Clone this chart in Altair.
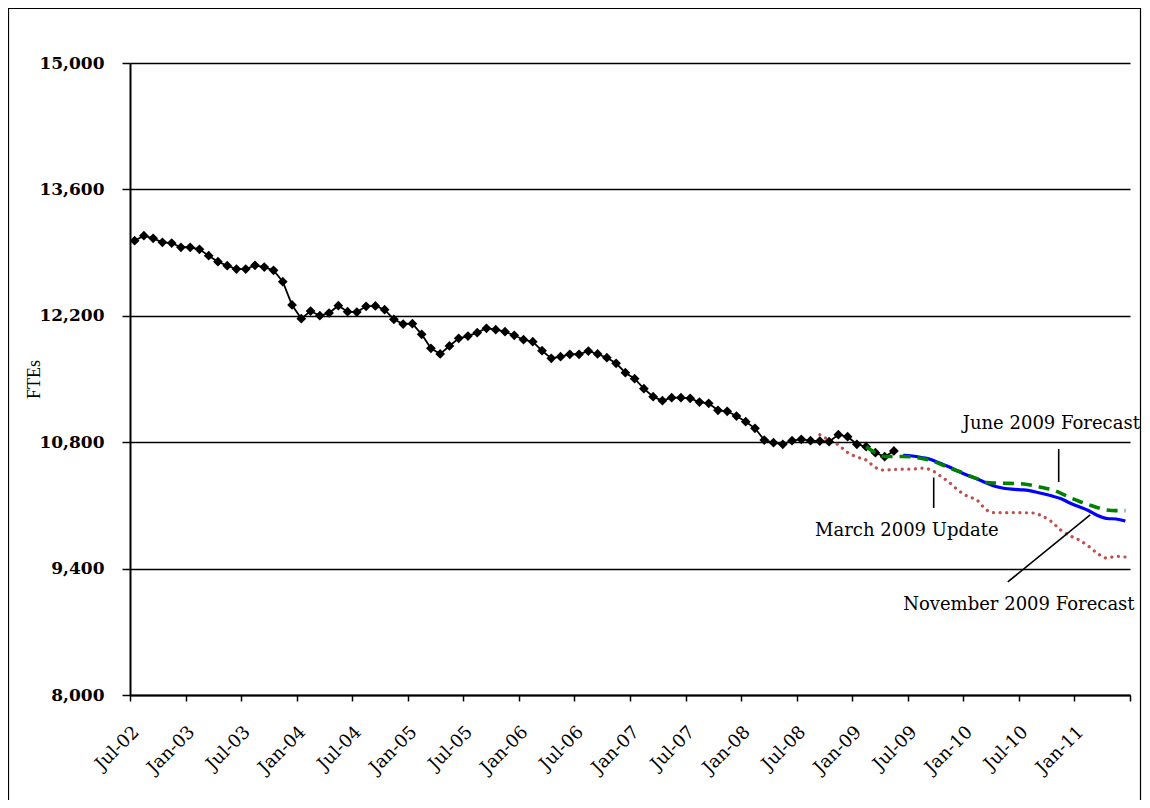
import altair as alt
import pandas as pd

# ---- data (monthly, index 0 = Jul-02) ----
actual = [13032, 13087, 13058, 13014, 13006, 12959, 12959, 12937, 12866, 12799,
          12755, 12718, 12718, 12759, 12740, 12704, 12578, 12320, 12168, 12253,
          12201, 12231, 12312, 12246, 12242, 12305, 12309, 12268, 12161, 12109,
          12113, 11995, 11840, 11777, 11866, 11951, 11976, 12013, 12062, 12046,
          12024, 11984, 11935, 11913, 11813, 11729, 11747, 11774, 11774, 11810,
          11777, 11736, 11674, 11570, 11503, 11393, 11304, 11260, 11293, 11293,
          11286, 11245, 11231, 11153, 11142, 11090, 11027, 10954, 10824, 10795,
          10777, 10817, 10832, 10817, 10813, 10806, 10883, 10861, 10777, 10750,
          10684, 10639, 10703]
actual_start = 0

march_update = [10883, 10824, 10771, 10686, 10636, 10603, 10520, 10490, 10497,
                10501, 10501, 10512, 10493, 10427, 10354, 10263, 10199, 10157,
                10049, 10019, 10019, 10021, 10019, 10016, 9983, 9922, 9828,
                9765, 9717, 9650, 9567, 9517, 9536, 9528]
march_start = 74

june_forecast = [10750, 10684, 10642, 10642, 10642, 10636, 10620, 10597, 10559,
                 10514, 10478, 10434, 10396, 10354, 10348, 10345, 10343, 10337,
                 10321, 10298, 10276, 10237, 10188, 10146, 10110, 10075, 10049,
                 10042, 10042]
june_start = 79

november_forecast = [10655, 10647, 10630, 10608, 10566, 10525, 10475, 10431,
                     10392, 10348, 10309, 10287, 10278, 10271, 10256, 10232,
                     10206, 10176, 10127, 10085, 10044, 9988, 9955, 9949, 9927]
november_start = 83

tick_labels = ["Jul-02", "Jan-03", "Jul-03", "Jan-04", "Jul-04", "Jan-05",
               "Jul-05", "Jan-06", "Jul-06", "Jan-07", "Jul-07", "Jan-08",
               "Jul-08", "Jan-09", "Jul-09", "Jan-10", "Jul-10", "Jan-11", ""]
y_ticks = [8000, 9400, 10800, 12200, 13600, 15000]

ann_text = ["June 2009 Forecast", "March 2009 Update", "November 2009 Forecast"]
ann_t = [99.5, 83.9, 96.0]
ann_v = [11002, 9817, 8997]
lead_t = [100.3, 86.8, 94.8]
lead_v = [10725, 10409, 9252]
lead_t2 = [100.3, 86.8, 103.7]
lead_v2 = [10359, 10071, 9994]


def frame(vals, start):
    return pd.DataFrame({"t": [start + k + 0.5 for k in range(len(vals))], "v": vals})


df_act = frame(actual, actual_start)
df_mar = frame(march_update, march_start)
df_jun = frame(june_forecast, june_start)
df_nov = frame(november_forecast, november_start)
df_ann = pd.DataFrame({"t": ann_t, "v": ann_v, "label": ann_text})
df_lead = pd.DataFrame({"t": lead_t, "v": lead_v, "t2": lead_t2, "v2": lead_v2})

FONT = "DejaVu Serif"
label_expr = "[" + ",".join("'%s'" % s for s in tick_labels) + "][round(datum.value / 6)]"

x_axis = alt.Axis(values=list(range(0, 109, 6)), labelExpr=label_expr, title=None)
y_axis = alt.Axis(values=y_ticks, labelExpr="format(datum.value, ',')", title="FTEs",
                  titleFontSize=18, titleFont="Liberation Serif")

x_scale = alt.Scale(domain=[0, 108], nice=False, zero=False)
y_scale = alt.Scale(domain=[8000, 15000], nice=False, zero=False)
X = alt.X("t:Q", scale=x_scale, axis=x_axis)
Y = alt.Y("v:Q", scale=y_scale, axis=y_axis)

red = alt.Chart(df_mar).mark_line(color="#C0504D", strokeWidth=3.2, strokeDash=[0.1, 6.5],
                                  strokeCap="round", interpolate="monotone").encode(x=X, y=Y)
blue = alt.Chart(df_nov).mark_line(color="#0000FF", strokeWidth=3.2,
                                   interpolate="monotone").encode(x=X, y=Y)
black = alt.Chart(df_act).mark_line(color="black", strokeWidth=1.8,
                                    point=alt.OverlayMarkDef(shape="diamond", size=95,
                                                             filled=True, color="black",
                                                             opacity=1)
                                    ).encode(x=X, y=Y)
green = alt.Chart(df_jun).mark_line(color="#008000", strokeWidth=3.6, strokeDash=[11, 7],
                                    interpolate="monotone").encode(x=X, y=Y)
leaders = alt.Chart(df_lead).mark_rule(color="black", strokeWidth=1.6).encode(
    x=X, y=Y, x2="t2:Q", y2="v2:Q")
texts = alt.Chart(df_ann).mark_text(font=FONT, fontSize=18, color="black",
                                    align="center", baseline="middle").encode(
    x=X, y=Y, text="label:N")
border = alt.Chart(pd.DataFrame({"k": [0]})).mark_rect(
    filled=False, stroke="black", strokeWidth=1.2).encode(
    x=alt.value(-121.5), x2=alt.value(1010.5), y=alt.value(-54.5), y2=alt.value(800))

chart = alt.layer(border, red, blue, black, green, leaders, texts).properties(
    width=1000, height=632,
    autosize=alt.AutoSizeParams(type="none"),
    padding={"left": 122, "top": 55, "right": 12, "bottom": 105},
    background="white",
).configure_view(strokeWidth=0).configure_axisX(
    labelAngle=315, labelAlign="right", labelBaseline="middle", labelOffset=6,
    labelPadding=28, labelFont=FONT, labelFontSize=18, labelColor="black",
    tickSize=6, tickColor="black", tickWidth=1.5, domainColor="black",
    domainWidth=2, grid=False, labelOverlap=False
).configure_axisY(
    labelFont=FONT, labelFontSize=17, labelFontWeight="bold", labelColor="black",
    labelPadding=18, tickSize=8, tickColor="black", tickWidth=1.5,
    domainColor="black", domainWidth=2, grid=True, gridColor="black", gridWidth=1.5,
    titleFontWeight="normal", titleColor="black", titleX=-96, titleY=316,
    titleAngle=270, titleAlign="center", titleBaseline="middle"
)

chart.save("out.html", embed_options={"renderer": "svg", "actions": False})
